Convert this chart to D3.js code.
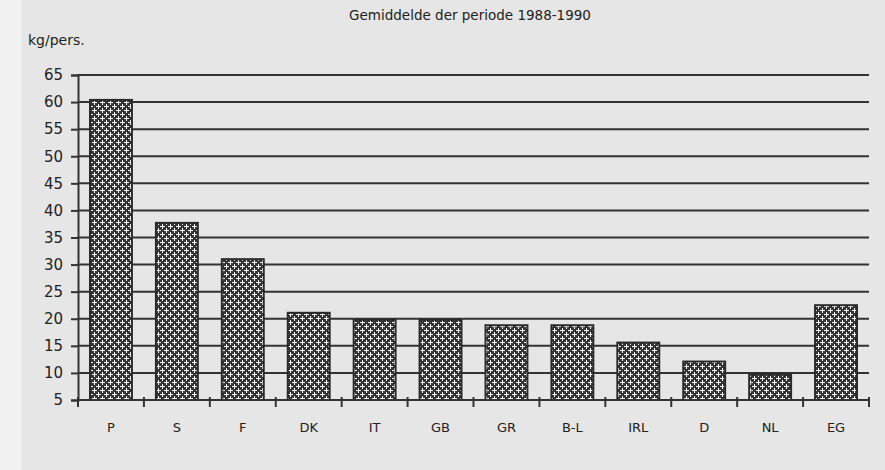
<!DOCTYPE html>
<html lang="nl">
<head>
<meta charset="UTF-8">
<script src="https://d3js.org/d3.v7.min.js"></script>
<style>
  body { margin: 0; background: #e8e8e8; }
  svg { display: block; }
  text { font-family: "DejaVu Sans", sans-serif; fill: #222; }
</style>
</head>
<body>
<div id="chart"></div>
<script>
  var countries = ["P", "S", "F", "DK", "IT", "GB", "GR", "B-L", "IRL", "D", "NL", "EG"];
  var values = [60.4, 37.7, 31.0, 21.1, 19.8, 19.8, 18.8, 18.8, 15.6, 12.1, 9.7, 22.5];
  var yTicks = [5, 10, 15, 20, 25, 30, 35, 40, 45, 50, 55, 60, 65];
  var title = "Gemiddelde der periode 1988-1990";
  var unit = "kg/pers.";

  var width = 885, height = 470;
  var margin = {top: 75, right: 15, bottom: 70, left: 78};

  var svg = d3.select("#chart").append("svg")
      .attr("width", width)
      .attr("height", height);

  // paper background, lighter strip on the left
  svg.append("rect").attr("width", width).attr("height", height).attr("fill", "#e6e6e6");
  svg.append("rect").attr("width", 22).attr("height", height).attr("fill", "#f1f1f1");

  // dark cross hatch with white plus shapes
  var pat = svg.append("defs").append("pattern")
      .attr("id", "hatch")
      .attr("patternUnits", "userSpaceOnUse")
      .attr("width", 8).attr("height", 8);
  pat.append("rect").attr("width", 8).attr("height", 8).attr("fill", "#333");
  [[2.5, 2.5], [6.5, 6.5]].forEach(function(c) {
    pat.append("rect").attr("x", c[0] - 2.5).attr("y", c[1] - 0.5)
      .attr("width", 5).attr("height", 1).attr("fill", "#f6f6f6");
    pat.append("rect").attr("x", c[0] - 0.5).attr("y", c[1] - 2.5)
      .attr("width", 1).attr("height", 5).attr("fill", "#f6f6f6");
  });
  pat.append("rect").attr("x", 0).attr("y", 6).attr("width", 1).attr("height", 1).attr("fill", "#f6f6f6");
  pat.append("rect").attr("x", 6).attr("y", 0).attr("width", 1).attr("height", 1).attr("fill", "#f6f6f6");

  var x = d3.scaleBand()
      .domain(countries)
      .range([margin.left, width - margin.right - 1])
      .paddingInner(0.364)
      .paddingOuter(0.182);

  var y = d3.scaleLinear()
      .domain([5, 65])
      .range([height - margin.bottom, margin.top]);

  // grid lines
  svg.append("g").selectAll("line")
      .data(yTicks.slice(1))
      .enter().append("line")
      .attr("x1", margin.left)
      .attr("x2", width - margin.right - 1)
      .attr("y1", function(d) { return y(d); })
      .attr("y2", function(d) { return y(d); })
      .attr("stroke", "#333")
      .attr("stroke-width", 2);

  // bars
  svg.append("g").selectAll("rect")
      .data(values)
      .enter().append("rect")
      .attr("x", function(d, i) { return x(countries[i]); })
      .attr("y", function(d) { return y(d); })
      .attr("width", x.bandwidth())
      .attr("height", function(d) { return y(5) - y(d); })
      .attr("fill", "url(#hatch)")
      .attr("stroke", "#2a2a2a")
      .attr("stroke-width", 2);

  // y axis
  var yAxis = svg.append("g")
      .attr("transform", "translate(" + margin.left + ",0)")
      .call(d3.axisLeft(y).tickValues(yTicks).tickSize(7).tickPadding(8));
  yAxis.select(".domain").attr("stroke", "#333").attr("stroke-width", 2);
  yAxis.selectAll(".tick line").attr("stroke", "#333").attr("stroke-width", 2);
  yAxis.selectAll("text").style("font-size", "15px").attr("fill", "#222");

  // x axis with ticks on band edges
  var xAxis = svg.append("g")
      .attr("transform", "translate(0," + y(5) + ")");
  xAxis.append("line")
      .attr("x1", margin.left).attr("x2", width - margin.right - 1)
      .attr("stroke", "#333").attr("stroke-width", 2);
  var step = x.step();
  var edges = countries.map(function(d) { return x(d) - step * 0.182; })
      .concat([x(countries[countries.length - 1]) + x.bandwidth() + step * 0.182]);
  xAxis.selectAll(".edge")
      .data(edges)
      .enter().append("line")
      .attr("x1", function(d) { return d; }).attr("x2", function(d) { return d; })
      .attr("y1", -3).attr("y2", 7)
      .attr("stroke", "#333").attr("stroke-width", 2);
  xAxis.selectAll(".lbl")
      .data(countries)
      .enter().append("text")
      .attr("x", function(d) { return x(d) + x.bandwidth() / 2; })
      .attr("y", 32)
      .attr("text-anchor", "middle")
      .style("font-size", "13px")
      .text(function(d) { return d; });

  svg.append("text")
      .attr("x", 470).attr("y", 20)
      .attr("text-anchor", "middle")
      .style("font-size", "13.5px")
      .text(title);

  svg.append("text")
      .attr("x", 28).attr("y", 45)
      .style("font-size", "14px")
      .text(unit);
</script>
</body>
</html>
